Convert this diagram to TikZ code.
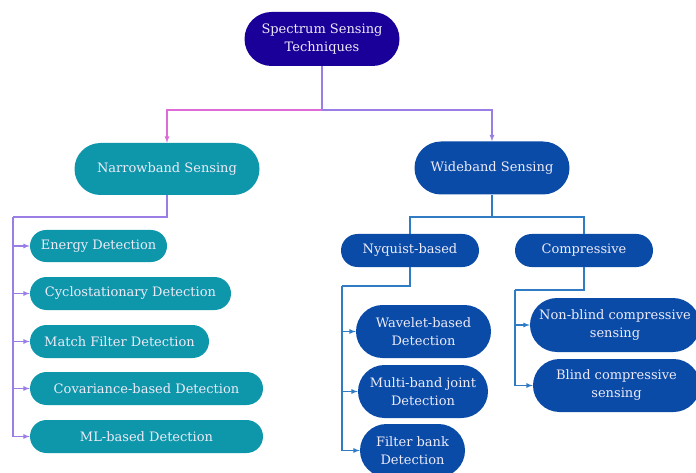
\documentclass[tikz,border=0pt]{standalone}
\usepackage{fontspec}
\setmainfont{DejaVu Serif}
\usetikzlibrary{shapes.misc,arrows}

\definecolor{rootblue}{HTML}{1A0099}
\definecolor{narrowteal}{HTML}{0E97AB}
\definecolor{wideblue}{HTML}{0B4BA8}
\definecolor{labelwhite}{HTML}{EDEBF7}
\definecolor{linkpink}{HTML}{DE6CD8}
\definecolor{linkviolet}{HTML}{9A7EE6}
\definecolor{linkblue}{HTML}{2F7CC4}

\tikzset{
  pill/.style={rounded rectangle, text=labelwhite, align=center, inner sep=0pt,
    font=\fontsize{13}{18}\selectfont},
  rootbox/.style={pill, fill=rootblue},
  narrowbox/.style={pill, fill=narrowteal},
  widebox/.style={pill, fill=wideblue},
  pinklink/.style={draw=linkpink, line width=1.2pt},
  violetlink/.style={draw=linkviolet, line width=1.2pt},
  bluelink/.style={draw=linkblue, line width=1.2pt},
}

\begin{document}
\begin{tikzpicture}[x=1pt, y=-1pt]
\clip (0,0) rectangle (696,473); % page

% top level
\node[rootbox, minimum width=155, minimum height=54] (root) at (322,39) {Spectrum Sensing\\Techniques};
\node[narrowbox, minimum width=185, minimum height=52] (narrow) at (167,169) {Narrowband Sensing};
\node[widebox, minimum width=155, minimum height=53] (wide) at (492,168) {Wideband Sensing};

% narrowband branch
\node[narrowbox, minimum width=137, minimum height=32] (energy) at (98.5,246) {Energy Detection};
\node[narrowbox, minimum width=201, minimum height=33] (cyclo) at (130.5,293.5) {Cyclostationary Detection};
\node[narrowbox, minimum width=179, minimum height=33] (match) at (119.5,341.5) {Match Filter Detection};
\node[narrowbox, minimum width=233, minimum height=33] (covar) at (146.5,388.5) {Covariance-based Detection};
\node[narrowbox, minimum width=233, minimum height=33] (mlbased) at (146.5,436.5) {ML-based Detection};

% wideband branch
\node[widebox, minimum width=138, minimum height=33] (nyquist) at (410,250.5) {Nyquist-based};
\node[widebox, minimum width=138, minimum height=33] (compr) at (584,250.5) {Compressive};
\node[widebox, minimum width=135, minimum height=53] (wavelet) at (423.5,331.5) {Wavelet-based\\Detection};
\node[widebox, minimum width=130, minimum height=53] (multiband) at (423,391.5) {Multi-band joint\\Detection};
\node[widebox, minimum width=105, minimum height=53] (filterbank) at (412.5,450.5) {Filter bank\\Detection};
\node[widebox, minimum width=170, minimum height=54] (nonblind) at (615,325) {Non-blind compressive\\sensing};
\node[widebox, minimum width=167, minimum height=53] (blind) at (616.5,385.5) {Blind compressive\\sensing};

% forks and rails
\coordinate (rootfork) at (322,110);
\coordinate (nbfork) at (167,217);
\coordinate (nbrail) at (13,217);
\coordinate (wbfork) at (492,217);
\coordinate (nqrail) at (342,286);
\coordinate (cprail) at (515,290);

% connectors
\draw[violetlink] (root.south) -- (rootfork);
\draw[pinklink, -latex] (rootfork) -| (narrow.north);
\draw[violetlink, -latex] (rootfork) -| (wide.north);
\draw[violetlink] (narrow.south) -- (nbfork) -- (nbrail);
\foreach \n in {energy,cyclo,match,covar,mlbased}
  \draw[violetlink, -latex] (nbrail) |- (\n.west);
\draw[bluelink] (wide.south) -- (wbfork) -| (nyquist.north);
\draw[bluelink] (wbfork) -| (compr.north);
\draw[bluelink] (nyquist.south) |- (nqrail);
\foreach \n in {wavelet,multiband,filterbank}
  \draw[bluelink, -latex] (nqrail) |- (\n.west);
\draw[bluelink] (compr.south) |- (cprail);
\foreach \n in {nonblind,blind}
  \draw[bluelink, -latex] (cprail) |- (\n.west);
\end{tikzpicture}
\end{document}
